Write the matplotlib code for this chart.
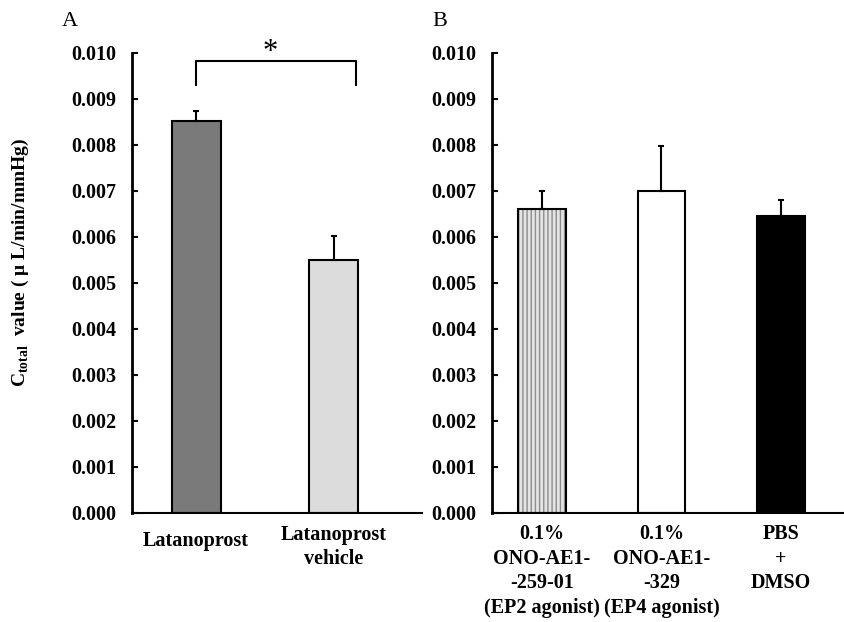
import matplotlib
matplotlib.use("Agg")
import matplotlib.pyplot as plt
import numpy as np

plt.rcParams['font.family'] = ['Liberation Serif', 'DejaVu Serif']
plt.rcParams['mathtext.fontset'] = 'custom'
plt.rcParams['mathtext.rm'] = 'Liberation Serif'
plt.rcParams['mathtext.bf'] = 'Liberation Serif:bold'
plt.rcParams['hatch.linewidth'] = 1.0

# Data
cats_a = ["Latanoprost", "Latanoprost\nvehicle"]
vals_a = [0.00853, 0.00550]
err_a = [0.00022, 0.00052]
cats_b = ["0.1%\nONO-AE1-\n-259-01\n(EP2 agonist)", "0.1%\nONO-AE1-\n-329\n(EP4 agonist)", "PBS\n+\nDMSO"]
vals_b = [0.00660, 0.00700, 0.00645]
err_b = [0.00041, 0.00097, 0.00036]
yticks = [0.000, 0.001, 0.002, 0.003, 0.004, 0.005, 0.006, 0.007, 0.008, 0.009, 0.010]

W, H = 844, 622
fig = plt.figure(figsize=(W / 100, H / 100), dpi=100)

Y_TOP, Y_BOT = 53, 513

def ax_px(x0, x1, ytop, ybot):
    return fig.add_axes([x0 / W, 1 - ybot / H, (x1 - x0) / W, (ybot - ytop) / H])

axA = ax_px(132, 422, Y_TOP, Y_BOT)
axB = ax_px(492, 844, Y_TOP, Y_BOT)

def style(ax):
    for s in ['top', 'right']:
        ax.spines[s].set_visible(False)
    ax.spines['left'].set_linewidth(2.0)
    ax.spines['bottom'].set_linewidth(1.5)
    ax.set_ylim(0, 0.010)
    ax.set_yticks(yticks)
    ax.set_yticklabels([f"{v:.3f}" for v in yticks], fontsize=14.5, fontweight='bold')
    ax.tick_params(axis='y', direction='in', length=4, width=1.5, pad=11)
    ax.set_xticks([])

def ylab_axes(ypx):
    return (Y_BOT - ypx) / (Y_BOT - Y_TOP)

def cat_labels(ax, xs, labels, top_px):
    trans = ax.get_xaxis_transform()
    for x, lab, t in zip(xs, labels, top_px):
        ax.text(x, ylab_axes(t), lab, transform=trans, ha='center', va='top',
                fontsize=14.5, fontweight='bold', linespacing=1.3, clip_on=False)

# Panel A
xa = np.arange(len(cats_a))
axA.bar(xa[0], vals_a[0], width=0.355, color='#7a7a7a', edgecolor='black', linewidth=1.5, zorder=2)
axA.bar(xa[1], vals_a[1], width=0.355, color='#dcdcdc', edgecolor='black', linewidth=1.5, zorder=2)
axA.errorbar(xa, vals_a, yerr=[np.zeros(len(err_a)), err_a], fmt='none', ecolor='black',
             elinewidth=1.5, capsize=2.5, capthick=1.5, zorder=3)
axA.set_xlim(-0.464, 1.638)
style(axA)
cat_labels(axA, xa, cats_a, [531, 525])

# significance bracket
bx0, bx1 = 0.0, 1.16
by0, by1 = 0.00930, 0.00982
axA.plot([bx0, bx0, bx1, bx1], [by0, by1, by1, by0], color='black', lw=1.5, clip_on=False)
axA.text(0.54, 0.01001, "*", ha='center', va='center', fontsize=22, clip_on=False)

# Panel B
xb = np.arange(len(cats_b))
axB.bar(xb[0], vals_b[0], width=0.40, color='#e4e4e4', edgecolor='#8c8c8c', hatch='||||', linewidth=0, zorder=2)
axB.bar(xb[0], vals_b[0], width=0.40, color='none', edgecolor='black', linewidth=1.5, zorder=2)
axB.bar(xb[1], vals_b[1], width=0.40, color='white', edgecolor='black', linewidth=1.5, zorder=2)
axB.bar(xb[2], vals_b[2], width=0.40, color='black', edgecolor='black', linewidth=1.5, zorder=2)
axB.errorbar(xb, vals_b, yerr=[np.zeros(len(err_b)), err_b], fmt='none', ecolor='black',
             elinewidth=1.5, capsize=2.5, capthick=1.5, zorder=3)
axB.set_xlim(-0.418, 2.527)
style(axB)
cat_labels(axB, xb, cats_b, [524, 524, 524])

# Y label
fig.text(20 / W, 1 - 262 / H, r"$\mathbf{C}_{\mathbf{total}}$  value ( μ L/min/mmHg)",
         rotation=90, ha='center', va='center', fontsize=14, fontweight='bold')

# panel letters
fig.text(70 / W, 1 - 22 / H, "A", ha='center', va='center', fontsize=16)
fig.text(440 / W, 1 - 22 / H, "B", ha='center', va='center', fontsize=16)

fig.savefig("out.png", dpi=100)
